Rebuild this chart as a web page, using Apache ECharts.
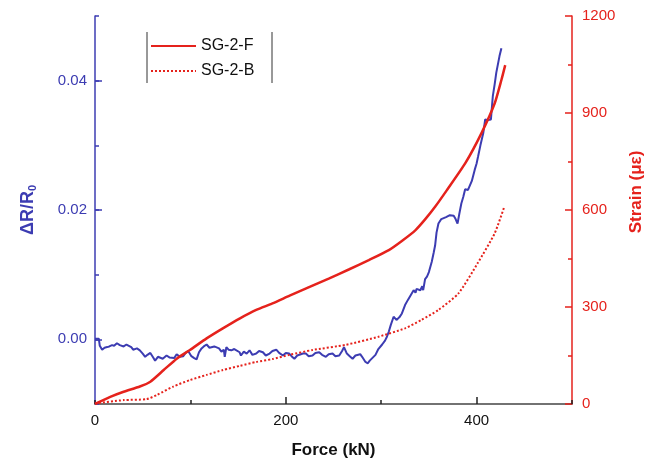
<!DOCTYPE html>
<html>
<head>
<meta charset="utf-8">
<script src="https://cdn.jsdelivr.net/npm/echarts@6/dist/echarts.min.js"></script>
<style>html,body{margin:0;padding:0;background:#fff}#c{width:646px;height:459px}</style>
</head>
<body>
<div id="c"></div>
<script>
// ---- data ----
const xTickLabels = [0, 200, 400];
const leftTickLabels = [0, 0.02, 0.04];
const rightTickLabels = [0, 300, 600, 900, 1200];

// ΔR/R0 (blue, left axis)
const forceDR = [0,4,5,7.5,10,12.7,15,17.9,20,23,26,30,33,35,38,40,44,47,50,52.6,55,58,61,63,66,68,71,75,78,80,83,85.6,89,92.5,95,97.7,101,104,106.5,109,111.7,114,117,120,122,125,127,130,132.5,135,136,137.7,140,143,146,148,151.6,153,156,159,162,165,169,172,176,179,183,186,190,193,197,200,203.6,206,209,212,214,218,221,224,228,231,235,238,242,245,249,252,256,259,261,264,267,270,273,275,278,280,283.5,286,288,290,294,297,301,304,306,308,310,313,316,319,321.7,323,325,328,330,332,334,336,337,339,341,343,344,346,348,350,353,355,356.5,358,360,363,365,368,370,372,374,376,378,380,382,384,386,388,391,393,395,398,400,401.6,404,407,409,412,415,417,419,420.6,422,424,426];
const deltaR = [0.0001,0.0001,-0.0010,-0.0016,-0.0013,-0.0012,-0.0011,-0.0009,-0.0010,-0.0006,-0.0009,-0.0011,-0.0008,-0.0006,-0.0012,-0.0016,-0.0014,-0.0017,-0.0022,-0.0027,-0.0024,-0.0021,-0.0028,-0.0033,-0.0027,-0.0025,-0.0030,-0.0025,-0.0028,-0.0026,-0.0029,-0.0023,-0.0027,-0.0026,-0.0021,-0.0018,-0.0026,-0.0029,-0.0031,-0.0020,-0.0014,-0.0011,-0.0008,-0.0013,-0.0016,-0.0011,-0.0009,-0.0014,-0.0019,-0.0016,-0.0027,-0.0012,-0.0016,-0.0017,-0.0015,-0.0018,-0.0020,-0.0025,-0.0019,-0.0022,-0.0017,-0.0024,-0.0022,-0.0018,-0.0020,-0.0025,-0.0022,-0.0018,-0.0016,-0.0021,-0.0025,-0.0021,-0.0022,-0.0026,-0.0030,-0.0025,-0.0027,-0.0022,-0.0022,-0.0026,-0.0025,-0.0021,-0.0020,-0.0024,-0.0027,-0.0023,-0.0022,-0.0026,-0.0025,-0.0018,-0.0012,-0.0022,-0.0026,-0.0030,-0.0025,-0.0025,-0.0023,-0.0027,-0.0035,-0.0037,-0.0033,-0.0030,-0.0024,-0.0015,-0.0008,-0.0002,0.0004,0.0012,0.0022,0.0035,0.0030,0.0034,0.0040,0.0038,0.0053,0.0061,0.0066,0.0071,0.0076,0.0072,0.0078,0.0081,0.0076,0.0082,0.0076,0.0093,0.0097,0.0104,0.0120,0.0134,0.0145,0.0165,0.0179,0.0186,0.0187,0.0189,0.0186,0.0192,0.0189,0.0191,0.0186,0.0179,0.0195,0.0210,0.0220,0.0232,0.0231,0.0233,0.0245,0.0262,0.0272,0.0283,0.0300,0.0319,0.0340,0.0339,0.0340,0.0376,0.0395,0.0412,0.0415,0.0438,0.0450];

// SG-2-F strain (red solid, right axis)
const forceF = [0,16,30,47,58,72,86,99.5,117,134,152,169,186,204,228,245,266,287,308,322,336,346,356.5,368.5,388,405,419,426,430];
const strainF = [0,22,38,54,69,105,141,167,203,234,265,291,311,335,366,388,416,445,476,505,538,571,610,660,744,837,930,1002,1048];

// SG-2-B strain (red dotted, right axis)
const forceB = [0,30,54,65,82,99.5,117,134,152,169,186,204,228,263,297,325,342,360,381,401,419,429];
const strainB = [2,12,15,28,54,74,90,105,118,130,139,152,167,183,208,234,260,291,342,435,528,610];

const zip = (a, b) => a.map((v, i) => [v, b[i]]);

const BLUE = '#3c3cb2';
const RED = '#e5221c';
const FONT = 'Liberation Sans';

const chart = echarts.init(document.getElementById('c'), null, {renderer: 'canvas'});
chart.setOption({
  animation: false,
  backgroundColor: '#fff',
  textStyle: {fontFamily: FONT},
  grid: {left: 95, right: 74, top: 16, bottom: 55, containLabel: false, outerBoundsMode: 'none'},
  legend: {
    left: 145, top: 33, orient: 'vertical', itemWidth: 45, itemHeight: 14, itemGap: 9,
    data: ['SG-2-F', 'SG-2-B'],
    itemStyle: {opacity: 0},
    textStyle: {fontSize: 16, color: '#111', fontFamily: FONT}
  },
  xAxis: [{
    type: 'value', min: 0, max: 500, interval: 100,
    name: 'Force (kN)', nameLocation: 'middle', nameGap: 38,
    nameTextStyle: {fontSize: 17, fontWeight: 'bold', color: '#111', fontFamily: FONT},
    axisLine: {show: true, onZero: false, lineStyle: {color: '#444', width: 1.5}},
    axisTick: {show: true, inside: true, length: 4, lineStyle: {color: '#222', width: 1.5}},
    axisLabel: {customValues: xTickLabels, fontSize: 15, color: '#111', margin: 9, fontFamily: FONT},
    splitLine: {show: false}
  }, {
    type: 'value', min: 0, max: 500, position: 'bottom', offset: 0,
    axisLine: {show: false, onZero: false},
    axisTick: {show: true, inside: true, length: 7, customValues: [200, 400], lineStyle: {color: '#222', width: 1.5}},
    axisLabel: {show: false},
    splitLine: {show: false}
  }],
  yAxis: [{
    type: 'value', position: 'left', min: -0.01, max: 0.05, interval: 0.01,
    name: 'ΔR/R{sub|0}', nameLocation: 'middle', nameGap: 57,
    nameTextStyle: {fontSize: 18, fontWeight: 'bold', color: BLUE, fontFamily: FONT,
      rich: {sub: {fontSize: 11, fontWeight: 'bold', color: BLUE, verticalAlign: 'bottom', padding: [8, 0, 0, 0]}}},
    axisLine: {show: true, onZero: false, lineStyle: {color: BLUE, width: 1.5}},
    axisTick: {show: true, inside: true, length: 4, lineStyle: {color: BLUE, width: 1.5}},
    axisLabel: {customValues: leftTickLabels, formatter: v => v.toFixed(2), fontSize: 15, color: BLUE, margin: 8, fontFamily: FONT},
    splitLine: {show: false}
  }, {
    type: 'value', position: 'right', min: 0, max: 1200, interval: 300,
    name: 'Strain (με)', nameLocation: 'middle', nameGap: 56,
    nameTextStyle: {fontSize: 17, fontWeight: 'bold', color: RED, fontFamily: FONT, padding: [0, 0, 0, 36]},
    axisLine: {show: true, onZero: false, lineStyle: {color: RED, width: 1.5}},
    axisTick: {show: true, inside: true, length: 7, lineStyle: {color: RED, width: 1.5}},
    minorTick: {show: true, splitNumber: 2, length: 4, lineStyle: {color: RED, width: 1.5}},
    axisLabel: {customValues: rightTickLabels, formatter: v => String(v), fontSize: 15, color: RED, margin: 10, fontFamily: FONT},
    splitLine: {show: false}
  }, {
    type: 'value', position: 'left', offset: 0, min: -0.01, max: 0.05,
    axisLine: {show: false, onZero: false},
    axisTick: {show: true, inside: true, length: 7, customValues: leftTickLabels, lineStyle: {color: BLUE, width: 1.5}},
    axisLabel: {show: false},
    splitLine: {show: false}
  }],
  graphic: [
    {type: 'line', shape: {x1: 147, y1: 32, x2: 147, y2: 83}, style: {stroke: '#333', lineWidth: 1}},
    {type: 'line', shape: {x1: 272, y1: 32, x2: 272, y2: 83}, style: {stroke: '#333', lineWidth: 1}}
  ],
  series: [{
    name: 'ΔR/R0', type: 'line', xAxisIndex: 0, yAxisIndex: 0, showSymbol: false, symbol: 'none',
    data: zip(forceDR, deltaR), lineStyle: {color: BLUE, width: 2}, itemStyle: {color: BLUE}
  }, {
    name: 'SG-2-F', type: 'line', xAxisIndex: 0, yAxisIndex: 1, showSymbol: false, symbol: 'none', smooth: 0.2,
    data: zip(forceF, strainF), lineStyle: {color: RED, width: 2.5}, itemStyle: {color: RED}
  }, {
    name: 'SG-2-B', type: 'line', xAxisIndex: 0, yAxisIndex: 1, showSymbol: false, symbol: 'none', smooth: 0.2,
    data: zip(forceB, strainB), lineStyle: {color: RED, width: 2, type: [2, 2]}, itemStyle: {color: RED}
  }]
});
</script>
</body>
</html>
